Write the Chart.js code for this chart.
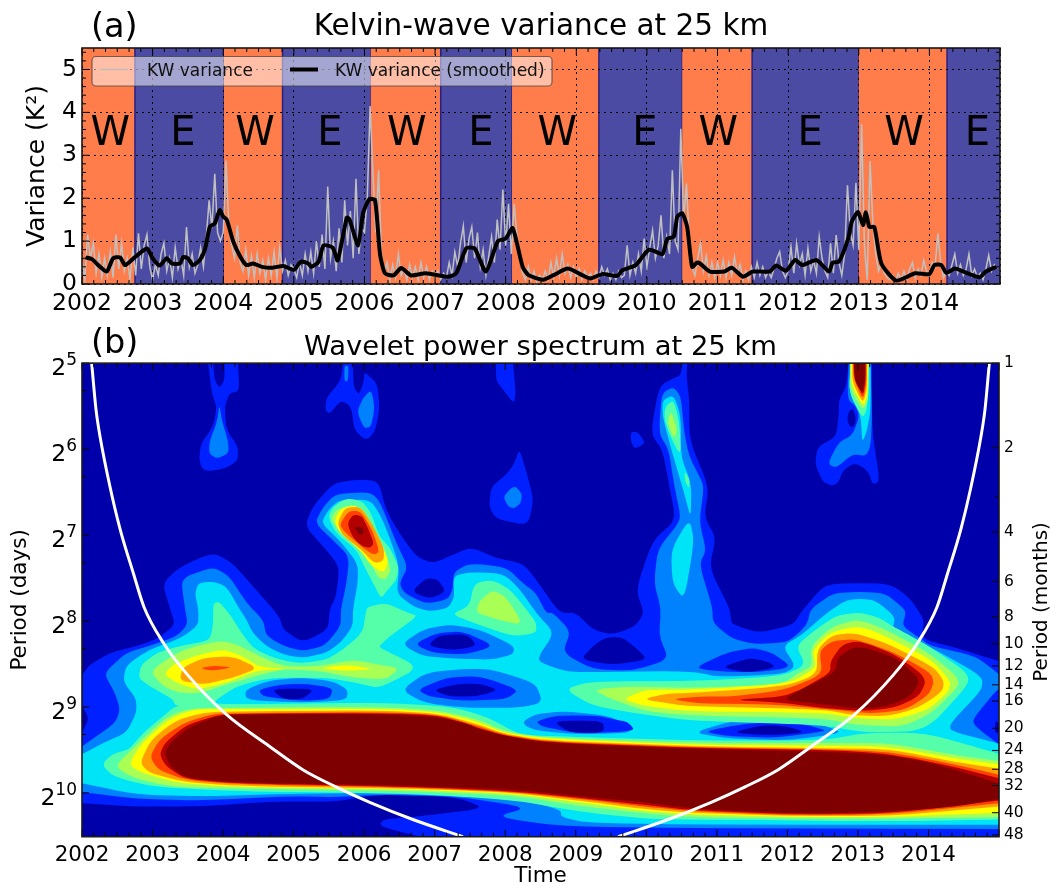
<!DOCTYPE html>
<html>
<head>
<meta charset="utf-8">
<title>Kelvin-wave variance</title>
<script src="https://cdn.jsdelivr.net/npm/chart.js@4"></script>
<style>
  html, body { margin: 0; padding: 0; background: #fff; }
  canvas { position: absolute; left: 0; }
  #varianceChart { top: 0; }
  #waveletChart { top: 320px; }
</style>
</head>
<body>
<canvas id="varianceChart" width="1050" height="320"></canvas>
<canvas id="waveletChart" width="1050" height="566"></canvas>
<script>
const FONT = '"DejaVu Sans"';

const yearTicks = [2002, 2003, 2004, 2005, 2006, 2007, 2008, 2009, 2010, 2011, 2012, 2013, 2014, 2015];
const varianceTicks = [0, 1, 2, 3, 4, 5];
const periodPowers = [5, 6, 7, 8, 9, 10];
const monthTicks = [1, 2, 4, 6, 8, 10, 12, 14, 16, 20, 24, 28, 32, 40, 48];

// QBO phases, edges in years
const phaseEdges = [2002, 2002.75, 2004.01, 2004.84, 2006.09, 2007.08, 2008.09, 2009.32, 2010.5, 2011.49, 2013.0, 2014.25, 2015];
const phaseNames = ['W', 'E', 'W', 'E', 'W', 'E', 'W', 'E', 'W', 'E', 'W', 'E'];
const phaseLabelYears = [2002.4, 2003.43, 2004.45, 2005.51, 2006.6, 2007.65, 2008.73, 2009.97, 2011.01, 2012.31, 2013.64, 2014.68];

// raw variance, one value every 0.04 yr
const rawStart = 2002;
const rawStep = 0.04;
const rawVariance = [
  .55,.1,1.15,.6,.95,.25,.7,.15,.6,.2,.75,.15,1.15,.35,.95,.3,.6,.1,.85,.2,1.18,.35,.9,1.15,.4,
  .1,.45,.2,.7,.95,.3,.6,.15,.85,.35,.6,.2,1.33,.4,.7,.25,.45,.85,.4,1.1,1.95,1.3,2.57,1.2,1.0,
  1.2,2.88,1.3,.9,.6,1.37,.5,.3,.8,.2,.65,.15,.7,.25,.55,.1,.6,.2,.75,.15,.85,.3,.55,.2,.45,
  .35,.15,.5,.2,.7,.3,.75,.25,1.0,.4,1.15,.35,2.27,.6,1.0,.3,1.3,.5,1.95,.9,1.7,.6,2.45,.7,1.3,
  1.2,2.0,4.15,2.55,1.2,2.65,.7,.25,.5,.1,.45,.15,.7,.2,.35,.1,.45,.15,.4,.1,.5,.15,.4,.1,.3,
  .15,.3,.1,.25,.15,.5,.2,.75,.4,.95,1.35,.5,1.05,1.33,.6,1.2,.4,.8,.2,.65,1.1,.5,1.5,.8,2.2,
  .9,1.87,.7,1.87,1.1,.6,.25,.1,.4,.1,.3,.05,.2,.1,.3,.1,.5,.15,.6,.2,.7,.25,.45,.15,.4,
  .15,.35,.1,.3,.15,.25,.1,.3,.15,.4,.2,.35,.1,.25,.1,.3,.15,.2,.9,.2,.5,.25,.7,.3,1.06,
  .4,.85,1.25,.6,.9,1.6,.6,1.1,.7,2.65,1.0,.8,3.62,1.5,2.34,1.0,.4,.2,.6,.95,.3,.65,.2,.5,.15,
  .5,.2,.55,.15,.5,.2,.63,.25,.45,.1,.3,.1,.4,.15,.5,.2,.4,.15,.3,.15,.35,.6,.75,.3,.15,
  .3,.87,.25,.95,.45,.7,.2,.83,.3,.55,.25,1.1,.6,.3,.15,.95,.25,1.14,.5,.2,.7,2.3,1.2,.9,2.36,
  .8,3.72,.9,.1,2.86,1.4,.7,.3,.5,.25,.15,.1,.2,.05,.25,.1,.3,.1,.35,.5,.15,.35,.2,.55,.3,
  .2,.5,.4,1.18,.5,.15,.3,.2,.45,.7,.25,.45,.2,.35,.7,.2,.35,.15,.25,.1,.35,.67,.3,.45,.35
];

const smoothYears = [2002.05,2002.14,2002.23,2002.35,2002.44,2002.54,2002.61,2002.73,2002.82,2002.92,
  2003.0,2003.1,2003.2,2003.27,2003.39,2003.43,2003.5,2003.57,2003.67,2003.74,2003.81,2003.88,2003.95,2004.0,2004.05,
  2004.14,2004.24,2004.33,2004.42,2004.55,2004.7,2004.85,2005.0,2005.1,2005.2,2005.25,2005.35,2005.42,2005.55,2005.62,2005.75,
  2005.79,2005.91,2005.98,2006.07,2006.15,2006.22,2006.29,2006.41,2006.52,2006.66,2006.87,2007.18,2007.3,2007.44,2007.56,2007.72,
  2007.89,2008.0,2008.1,2008.24,2008.33,2008.53,2008.67,2008.88,2009.09,2009.2,2009.37,2009.58,2009.65,2009.84,
  2010.03,2010.22,2010.29,2010.38,2010.43,2010.5,2010.57,2010.64,2010.71,2010.75,2010.89,2011.1,2011.2,2011.36,2011.5,2011.74,
  2011.83,2011.97,2012.1,2012.2,2012.4,2012.58,2012.63,2012.72,2012.85,2012.9,2012.99,2013.06,2013.1,2013.15,2013.22,2013.32,
  2013.53,2013.8,2014.0,2014.07,2014.17,2014.24,2014.36,2014.48,2014.71,2014.8,2014.95];
const smoothVariance = [.62,.58,.44,.29,.6,.62,.44,.6,.72,.83,
  .6,.43,.6,.48,.48,.63,.6,.44,.56,.8,1.33,1.41,1.72,1.57,1.5,
  1.0,.64,.44,.48,.4,.38,.42,.33,.52,.48,.4,.52,.9,.85,.55,1.55,
  1.5,.9,1.65,1.98,1.95,.7,.25,.2,.37,.2,.25,.17,.25,.83,.83,.29,
  1.0,1.06,1.3,.4,.2,.1,.2,.36,.2,.13,.23,.19,.32,.44,
  .8,.7,1.06,1.1,1.57,1.65,1.33,.4,.5,.48,.29,.29,.38,.17,.29,.29,
  .43,.31,.56,.44,.56,.29,.5,.52,1.06,1.45,1.68,1.37,1.67,1.33,1.33,.48,
  .08,.25,.23,.44,.44,.26,.36,.29,.16,.29,.4];

// cone of influence, year / log2(period)
const coiLeftYears = [2002.137,2002.2,2002.255,2002.4,2002.54,2002.73,2002.88,2003.15,2003.5,2004.05,2004.66,2005.13,2005.6,2006.08,2006.69,2007.4];
const coiLeftPower = [5,5.55,5.85,6.45,6.93,7.45,7.84,8.25,8.63,9.09,9.46,9.73,9.93,10.11,10.31,10.51];
const coiRightYears = [2009.6,2010.31,2010.92,2011.4,2011.87,2012.34,2012.95,2013.5,2013.85,2014.12,2014.27,2014.46,2014.6,2014.745,2014.8,2014.863];
const coiRightPower = [10.51,10.31,10.11,9.93,9.73,9.46,9.09,8.63,8.25,7.84,7.45,6.93,6.45,5.85,5.55,5];

// filled contour levels of the wavelet power, low to high
const levelColors = ['#0000aa', '#0020ff', '#0082ff', '#00e4f8', '#55ffaa', '#aaff55', '#ffff00', '#ffa000', '#ff4000', '#b40000', '#7f0000'];

// outlines, flat year,log2(period) pairs
const l1Main = [2002,8.63,2002.11,8.51,2002.4,8.37,2002.87,8.27,2003.1,8.19,2003.32,8.04,2003.25,7.86,2003.14,7.56,2003.39,7.37,2003.86,7.2,2004.14,7.33,2004.47,7.64,2004.8,7.95,2004.85,8.1,2005.13,8.25,2005.49,8.1,2005.51,7.86,2005.6,7.72,2005.65,7.37,2005.46,7.17,2005.16,6.9,2005.27,6.67,2005.56,6.4,2005.84,6.36,2006.12,6.36,2006.22,6.42,2006.31,6.71,2006.5,6.98,2006.74,7.25,2006.97,7.33,2007.26,7.23,2007.52,7.14,2007.87,7.27,2008.25,7.33,2008.44,7.52,2008.77,7.91,2009.0,7.9,2009.24,8.1,2009.52,8.16,2009.85,8.06,2009.97,7.9,2009.85,7.64,2010.09,7.06,2010.42,6.83,2010.32,6.4,2010.23,6.01,2010.06,5.82,2010.18,5.27,2010.37,5.18,2010.49,5.14,2010.51,5,2010.58,5,2010.57,5.16,2010.61,5.43,2010.61,5.9,2010.89,6.44,2010.82,6.79,2010.99,7.03,2010.89,7.38,2011.18,7.85,2011.2,7.98,2011.22,8.04,2011.6,8.14,2012.09,8.04,2012.19,7.9,2012.5,7.6,2012.73,7.56,2013.44,7.56,2013.72,7.72,2013.94,7.98,2013.91,8.17,2014,8.23,2014.38,8.31,2014.93,8.45,2015,8.47,2015,10.51,2006.79,10.51,2006.22,10.39,2006.26,10.31,2006.69,10.28,2007.73,10.18,2007.31,10.05,2006.22,10.02,2005.89,10.06,2005.6,10.1,2004.66,10.1,2003.72,10.16,2002.77,10.16,2002.02,10.12,2002,10.12,2002,9.3,2002.1,9.13,2002,8.99];
const l1Top04 = [2003.79,5,2003.84,5.35,2003.91,5.51,2003.86,5.74,2003.69,5.93,2003.66,6.09,2003.69,6.22,2003.79,6.26,2004.05,6.22,2004.21,6.13,2004.21,5.97,2004.05,5.78,2004.02,5.51,2004.09,5.35,2004.23,5.33,2004.21,5,2004.02,5,2004.02,5.2,2003.95,5.29,2003.88,5.2,2003.86,5];
const l1Top06 = [2005.7,5,2005.67,5.2,2005.46,5.41,2005.45,5.55,2005.51,5.59,2005.67,5.43,2005.82,5.51,2005.86,5.78,2006.03,5.9,2006.15,5.8,2006.22,5.55,2006.19,5.24,2006.0,5.1,2006.0,5.2,2005.93,5.37,2005.85,5.28,2005.84,5];
const l1Top08 = [2007.87,5,2008.11,5,2008.15,5.35,2008.12,5.47,2007.97,5.31,2007.87,5.2];
const l1Blob08 = [2008.2,5.99,2008.32,6.32,2008.4,6.59,2008.34,6.83,2008.25,6.88,2007.87,6.81,2007.77,6.67,2007.8,6.44,2008.01,6.3,2008.13,6.17];
const l1Dot09 = [2009.78,5.8,2009.88,5.8,2009.99,5.93,2009.83,6,2009.78,5.9];
const l1Plume13 = [2012.87,5,2012.83,5.28,2012.73,5.43,2012.73,5.59,2012.69,5.86,2012.43,5.97,2012.39,6.17,2012.5,6.38,2012.64,6.43,2012.73,6.38,2012.78,6.26,2012.92,6.17,2013.04,6.19,2013.16,6.28,2013.2,6.4,2013.28,6.4,2013.3,6.32,2013.2,5.78,2013.2,5];

const l2Main = [2002,9.46,2002.47,9.19,2002.54,9.03,2002.47,8.84,2002.33,8.64,2002.37,8.56,2002.63,8.37,2002.96,8.29,2003.34,8.18,2003.5,8.04,2003.46,7.86,2003.41,7.56,2003.48,7.48,2003.86,7.37,2004.09,7.48,2004.33,7.79,2004.57,7.99,2004.61,8.17,2004.85,8.29,2005.13,8.35,2005.44,8.29,2005.67,8.06,2005.67,7.86,2005.75,7.56,2005.79,7.25,2005.56,7.06,2005.3,6.86,2005.42,6.67,2005.6,6.52,2006.08,6.5,2006.22,6.6,2006.46,7.1,2006.62,7.37,2006.5,7.56,2006.57,7.68,2006.88,7.8,2007.19,7.75,2007.26,7.62,2007.27,7.43,2007.49,7.33,2008.01,7.37,2008.25,7.56,2008.44,7.68,2008.58,7.91,2008.67,7.9,2008.93,8.12,2008.81,8.37,2009.24,8.56,2009.8,8.58,2010.32,8.45,2010.18,8.17,2010.21,7.86,2010.11,7.56,2010.16,7.17,2010.42,6.9,2010.49,6.79,2010.39,6.4,2010.32,6.01,2010.18,5.82,2010.21,5.43,2010.25,5.33,2010.39,5.28,2010.49,5.39,2010.54,5.82,2010.61,6.09,2010.73,6.28,2010.82,6.44,2010.75,6.84,2010.85,7.18,2010.75,7.34,2010.94,7.85,2010.94,8.02,2011.22,8.21,2011.55,8.27,2011.98,8.25,2012.12,8.17,2012.28,8.04,2012.33,7.86,2012.64,7.68,2013.02,7.66,2013.39,7.68,2013.63,7.84,2013.68,7.9,2013.63,8.06,2013.86,8.19,2014.03,8.29,2014.67,8.41,2014.97,8.6,2015,8.62,2015,10.42,2010.75,10.41,2008.77,10.39,2007.87,10.28,2008.32,10.17,2007.31,10.04,2006.22,10.02,2005.6,10.05,2004.9,10.04,2003.72,10.09,2002.77,10.07,2002,9.99];
const l2Top04 = [2003.95,5.48,2003.98,5.66,2004.07,5.9,2004.08,6.05,2003.91,6.11,2003.8,6.05,2003.81,5.9,2003.91,5.7];
const l2Top06a = [2006.1,5.31,2006.15,5.51,2006.1,5.74,2006,5.76,2005.9,5.57,2005.98,5.41];
const l2Top06b = [2005.72,5.03,2005.78,5.03,2005.77,5.21,2005.72,5.21];
const l2Blob08 = [2008.13,6.42,2008.24,6.52,2008.22,6.63,2008.13,6.69,2008.04,6.67,2007.97,6.55];
const l2Plume13 = [2012.87,5,2012.85,5.42,2012.97,5.5,2013.02,5.62,2012.92,5.84,2012.73,5.92,2012.57,6.17,2012.69,6.22,2012.92,6.06,2013.11,6.08,2013.18,5.97,2013.2,5.62,2013.18,5];

const l3Main = [2002,9.55,2002.35,9.4,2002.63,9.3,2002.77,9.07,2002.77,8.91,2002.58,8.7,2002.63,8.51,2002.96,8.33,2003.25,8.25,2003.48,8.16,2003.65,8.04,2003.65,7.86,2003.6,7.68,2003.65,7.56,2003.86,7.54,2004.05,7.6,2004.24,7.87,2004.33,7.98,2004.42,8.14,2004.61,8.29,2004.85,8.39,2005.13,8.43,2005.46,8.37,2005.67,8.25,2005.84,8.06,2005.84,7.86,2005.91,7.56,2005.91,7.33,2005.65,7.06,2005.39,6.86,2005.49,6.71,2005.65,6.59,2006.08,6.59,2006.22,6.75,2006.36,7.02,2006.5,7.37,2006.46,7.68,2006.69,7.83,2006.93,7.89,2007.19,7.85,2007.28,7.72,2007.26,7.48,2007.49,7.43,2007.97,7.45,2008.2,7.62,2008.44,7.91,2008.7,8.14,2008.44,8.45,2008.63,8.53,2008.96,8.6,2010.32,8.58,2010.75,8.6,2011.0,8.65,2011.93,8.62,2012.12,8.53,2011.93,8.29,2012.21,8.16,2012.45,7.98,2012.64,7.86,2012.83,7.76,2013.02,7.74,2013.25,7.76,2013.53,7.95,2013.49,8.1,2013.68,8.19,2014,8.29,2014.76,8.64,2014.76,8.8,2014.31,9.19,2014.31,9.28,2014.97,9.42,2015,9.44,2015,10.37,2010.75,10.37,2009.15,10.35,2008.79,10.28,2008.79,10.2,2008.34,10.1,2007.87,10.06,2006.22,10.0,2004.9,10.01,2003.72,10.04,2002.77,10.02,2002.02,9.89,2002,9.89];
const l3Plume10a = [2010.23,5.43,2010.39,5.37,2010.49,5.62,2010.49,6.09,2010.64,6.4,2010.63,6.81,2010.54,6.52,2010.37,6.05,2010.23,5.62];
const l3Plume10b = [2010.35,7.17,2010.61,6.81,2010.68,7.06,2010.54,7.76,2010.37,7.56];
const l3Plume13 = [2012.89,5,2012.88,5.36,2013.04,5.6,2013.06,5.93,2013.13,5.78,2013.18,5.55,2013.18,5];

// low-power eyes cut back into the cyan field
const eye05L2 = [2004.31,8.8,2004.66,8.69,2005.13,8.66,2005.56,8.7,2005.77,8.8,2005.75,8.92,2005.13,8.95,2004.33,8.92];
const eye05L1 = [2004.5,8.8,2004.8,8.74,2005.18,8.73,2005.56,8.78,2005.51,8.91,2005.13,8.93,2004.57,8.88];
const eye05L0 = [2004.68,8.79,2005.3,8.79,2005.13,8.91,2004.85,8.91];
const eye07aL2 = [2006.53,8.27,2006.83,8.1,2007.21,8.04,2007.64,8.1,2008.13,8.29,2008.11,8.39,2007.82,8.45,2007.35,8.44,2006.83,8.41];
const eye07aL1 = [2006.71,8.27,2007.02,8.14,2007.4,8.12,2007.85,8.29,2007.45,8.39,2006.97,8.37];
const eye07aL0 = [2006.9,8.29,2007.05,8.17,2007.45,8.15,2007.61,8.29,2007.26,8.34];
const eye07bL2 = [2006.53,8.8,2006.88,8.6,2007.4,8.56,2007.78,8.56,2008.2,8.66,2008.44,8.74,2008.53,8.95,2008.2,9.01,2007.4,9.01,2006.83,8.95];
const eye07bL1 = [2006.75,8.8,2007.16,8.66,2007.64,8.64,2008.2,8.8,2008.01,8.91,2007.4,8.93,2006.93,8.88];
const eye07bL0 = [2006.97,8.8,2007.35,8.73,2007.64,8.73,2007.91,8.8,2007.59,8.88,2007.21,8.88];
const eye09L2 = [2008.25,9.17,2008.44,9.08,2008.86,9.05,2009.52,9.11,2009.85,9.3,2009.05,9.32,2008.48,9.28,2008.3,9.23];
const eye09L1 = [2008.43,9.17,2008.72,9.1,2009.29,9.1,2009.57,9.15,2009.73,9.17,2009.85,9.28,2009.05,9.31,2008.53,9.23];
const eye09L0 = [2008.67,9.16,2009.39,9.16,2009.4,9.3,2008.91,9.3];
const eye11aL1 = [2010.7,8.54,2011.13,8.37,2011.51,8.31,2011.79,8.37,2012.07,8.54,2011.55,8.6,2010.89,8.58];
const eye11aL0 = [2011.06,8.54,2011.46,8.43,2011.72,8.47,2011.84,8.54,2011.44,8.6];
const eye11bL2 = [2010.66,9.3,2011.22,9.16,2012.02,9.14,2012.5,9.21,2012.8,9.3,2012.02,9.39,2011.18,9.37];
const eye11bL1 = [2010.8,9.29,2011.41,9.19,2012.07,9.17,2012.5,9.26,2012.54,9.28,2011.84,9.36,2011.18,9.34];
const eye11bL0 = [2011.2,9.3,2011.65,9.21,2012.02,9.23,2012.26,9.3,2011.74,9.33];
const bayL0a = [2009.07,8.45,2009.24,8.29,2009.43,8.19,2009.66,8.19,2009.85,8.31,2010.02,8.45,2009.52,8.51];
const bayL0b = [2006.67,7.66,2006.88,7.5,2007.05,7.52,2007.16,7.66,2006.93,7.74];
const plume13L0 = [2012.92,5.52,2012.97,5.62,2012.96,5.72,2012.9,5.75,2012.85,5.68,2012.86,5.58];
const edgeL1 = [2014.97,8.8,2014.62,9.15,2014.67,9.23,2014.97,9.42,2015,9.43,2015,8.8];
const edgeL0 = [2014.95,9.15,2015,9.2,2015,9.3,2014.94,9.3];

const l4Band = [2002.28,9.67,2002.44,9.54,2002.66,9.5,2002.87,9.3,2003.15,9.11,2003.32,8.99,2003.72,8.95,2004.09,8.97,2006.22,8.95,2007.07,8.99,2007.4,9.03,2007.77,9.13,2008.2,9.32,2008.58,9.34,2010.75,9.39,2012.5,9.39,2013.11,9.3,2013.96,9.3,2014.97,9.54,2015,9.55,2015,10.31,2013.44,10.33,2010.61,10.31,2009.99,10.3,2009.05,10.22,2008.11,10.08,2006.69,10.01,2004.19,9.98,2003.01,9.93,2002.44,9.81];
const l4Body = [2003.32,8.99,2003.29,8.91,2002.96,8.76,2002.8,8.66,2002.84,8.51,2003.06,8.37,2003.39,8.29,2003.81,8.23,2003.86,8.04,2003.86,7.79,2003.95,7.78,2004.12,7.95,2004.26,8.14,2004.42,8.31,2004.66,8.41,2004.9,8.47,2005.13,8.49,2005.46,8.45,2005.67,8.35,2005.98,8.14,2006.03,7.86,2006.08,7.83,2006.24,7.8,2006.36,7.81,2006.64,7.91,2006.76,7.94,2006.36,8.18,2006.22,8.29,2006.22,8.31,2006.79,8.54,2006.22,8.78,2005.98,8.74,2005.77,8.7,2005.46,8.66,2004.66,8.66,2004.19,8.76,2003.88,8.93,2003.88,9.0];
const l4Dome = [2008.84,8.79,2009.24,8.7,2010.75,8.7,2011.93,8.64,2012.26,8.51,2012.12,8.29,2012.4,8.1,2012.69,7.94,2013.02,7.9,2013.3,7.96,2013.49,8.06,2013.63,8.12,2014,8.29,2014.55,8.6,2014.57,8.74,2013.96,9.28,2013.11,9.3,2012.5,9.21,2010.61,9.16,2009.99,9.09,2009.24,8.99];
const l4Hot06 = [2005.49,6.79,2005.56,6.67,2005.75,6.57,2005.98,6.61,2006.1,6.75,2006.22,7.02,2006.36,7.14,2006.49,7.37,2006.46,7.52,2006.31,7.66,2006.24,7.74,2006.1,7.52,2005.98,7.33,2005.89,7.17,2005.6,6.98];
const l4Patch08 = [2007.56,7.56,2007.82,7.52,2008.08,7.64,2008.34,7.91,2008.44,8.02,2008.44,8.14,2008.11,8.18,2007.68,8.06,2007.23,7.92,2007.49,7.83];
const l4Plume10a = [2010.28,5.49,2010.39,5.43,2010.47,5.7,2010.49,6.09,2010.32,5.82,2010.25,5.62];
const l4Plume10b = [2010.54,6.26,2010.61,6.34,2010.61,6.46,2010.55,6.38];
const l4Plume13 = [2012.9,5,2012.87,5.33,2013.06,5.64,2013.13,5.55,2013.16,5];

const l5Band = [2002.47,9.69,2002.7,9.5,2003.2,9.11,2003.53,9.02,2004.09,9.01,2006.22,9.0,2007.07,9.04,2007.64,9.15,2007.97,9.28,2008.58,9.36,2010.75,9.42,2012.5,9.42,2013.44,9.42,2014.38,9.56,2015,9.63,2015,10.28,2013.44,10.3,2012.02,10.3,2010.61,10.28,2009.99,10.24,2009.05,10.15,2008.11,10.03,2006.69,9.98,2004.19,9.95,2003.25,9.93,2002.68,9.81];
const l5Blob04 = [2002.96,8.58,2003.39,8.35,2003.72,8.27,2004.0,8.23,2004.24,8.29,2004.47,8.39,2004.85,8.53,2005.37,8.53,2005.84,8.45,2006.22,8.51,2006.5,8.55,2006.31,8.68,2005.84,8.66,2005.37,8.58,2004.85,8.56,2004.47,8.64,2004.05,8.74,2003.67,8.84,2003.39,8.84,2003.15,8.76];
const l5Dome = [2009.24,8.8,2009.76,8.76,2010.75,8.78,2011.93,8.74,2012.16,8.6,2012.35,8.53,2012.33,8.29,2012.64,8.06,2013.02,7.98,2013.44,8.12,2014,8.37,2014.4,8.64,2014.43,8.76,2014.05,9.07,2013.63,9.23,2012.97,9.21,2012.5,9.13,2010.61,9.1,2009.99,9.05,2009.52,8.91];
const l5Hot06 = [2005.53,6.81,2005.6,6.71,2005.79,6.65,2005.98,6.69,2006.12,6.9,2006.31,7.25,2006.38,7.4,2006.31,7.52,2006.2,7.5,2006.08,7.3,2005.94,7.1,2005.62,6.92];
const l5Patch08 = [2007.82,7.64,2008.01,7.72,2008.22,7.99,2008.18,8.04,2007.87,7.98,2007.58,7.9,2007.64,7.76];
const l5Plume10 = [2010.35,5.55,2010.44,5.78,2010.39,5.88,2010.3,5.7];
const l5Plume13 = [2012.89,5,2012.89,5.3,2013.07,5.55,2013.15,5.43,2013.15,5];

const l6Band = [2002.66,9.67,2002.85,9.42,2003.25,9.13,2003.62,9.02,2004.09,9.03,2006.22,9.02,2007.07,9.06,2007.64,9.18,2007.97,9.3,2008.58,9.37,2010.75,9.44,2012.5,9.45,2013.44,9.46,2014.38,9.6,2015,9.67,2015,10.23,2013.44,10.28,2012.02,10.28,2010.61,10.25,2009.99,10.21,2009.05,10.11,2008.11,10.01,2006.69,9.96,2004.19,9.93,2003.39,9.89,2002.85,9.77];
const l6Blob04 = [2003.16,8.62,2003.29,8.51,2003.58,8.41,2004.0,8.33,2004.28,8.41,2004.5,8.53,2004.92,8.56,2004.5,8.57,2004.05,8.72,2003.62,8.8,2003.34,8.72];
const l6Blob05 = [2005.37,8.55,2005.75,8.51,2006.15,8.56,2005.75,8.58];
const l6Dome = [2009.66,8.91,2009.99,8.8,2010.61,8.8,2012.02,8.73,2012.42,8.54,2012.35,8.35,2012.59,8.14,2012.97,8.06,2013.25,8.12,2014.05,8.45,2014.31,8.7,2014.29,8.82,2014,9.03,2013.53,9.15,2012.97,9.13,2012.5,9.07,2010.61,9.05,2009.99,8.99];
const l6Hot06 = [2005.58,6.83,2005.66,6.7,2005.85,6.65,2006.0,6.72,2006.22,7.05,2006.35,7.3,2006.28,7.44,2006.1,7.36,2005.96,7.19,2005.63,6.95];
const l6Plume13 = [2012.9,5,2012.91,5.26,2013.08,5.51,2013.14,5.35,2013.14,5];

const l7Band = [2002.82,9.65,2002.98,9.38,2003.34,9.15,2003.72,9.07,2004.09,9.05,2006.22,9.04,2007.07,9.08,2007.64,9.21,2007.97,9.31,2008.58,9.39,2010.75,9.46,2012.5,9.48,2013.44,9.49,2014.38,9.64,2015,9.72,2015,10.16,2013.44,10.27,2012.02,10.27,2010.61,10.23,2009.99,10.19,2009.05,10.09,2008.11,10.0,2006.69,9.95,2004.19,9.92,2003.44,9.87,2002.96,9.77];
const l7Blob04 = [2003.39,8.66,2003.43,8.54,2003.72,8.43,2004.14,8.41,2004.5,8.55,2004.14,8.66,2003.72,8.74,2003.43,8.7];
const l7Dome = [2009.95,8.91,2010.32,8.84,2010.61,8.84,2011.98,8.76,2012.42,8.62,2012.42,8.33,2012.64,8.16,2012.97,8.14,2013.44,8.27,2014.08,8.54,2014.22,8.7,2014.2,8.82,2013.86,9.01,2013.44,9.11,2012.97,9.1,2012.5,9.03,2010.61,8.99,2010.32,8.96];
const l7Hot06 = [2005.62,6.86,2005.73,6.68,2005.95,6.67,2006.12,6.88,2006.28,7.15,2006.28,7.3,2006.14,7.33,2005.96,7.17,2005.69,7.0];
const l7Plume13 = [2012.92,5,2012.92,5.22,2013.07,5.47,2013.13,5.3,2013.13,5];

const l8Band = [2002.96,9.58,2003.1,9.38,2003.43,9.19,2003.81,9.09,2004.09,9.07,2006.22,9.06,2007.07,9.09,2007.64,9.23,2007.97,9.32,2008.58,9.4,2010.75,9.47,2012.5,9.49,2013.44,9.52,2014.38,9.67,2015,9.79,2015,10.12,2013.44,10.25,2012.02,10.26,2010.61,10.21,2009.99,10.16,2009.05,10.07,2008.11,9.99,2006.69,9.94,2004.19,9.9,2003.46,9.85,2003.08,9.73];
const l8Blob04 = [2003.67,8.55,2003.86,8.52,2004.14,8.54,2003.86,8.58];
const l8Dome = [2010.35,8.91,2010.75,8.88,2011.22,8.88,2011.98,8.8,2012.5,8.62,2012.45,8.35,2012.64,8.23,2012.97,8.21,2013.53,8.37,2014.03,8.6,2014.08,8.72,2014,8.86,2013.68,9.03,2013.2,9.08,2012.64,9.03,2011.79,8.97,2010.75,8.96];
const l8Hot06 = [2005.65,6.88,2005.78,6.72,2005.95,6.72,2006.12,6.95,2006.22,7.2,2006.12,7.23,2005.96,7.13,2005.73,6.97];
const l8Plume13 = [2012.93,5,2012.94,5.18,2013.07,5.43,2013.12,5.25,2013.12,5];

const l9Band = [2003.1,9.56,2003.17,9.42,2003.48,9.21,2003.86,9.11,2004.09,9.08,2006.22,9.07,2007.07,9.1,2007.64,9.25,2007.97,9.33,2008.58,9.41,2010.75,9.48,2012.5,9.5,2013.44,9.54,2014.38,9.7,2015,9.83,2015,10.09,2013.44,10.24,2012.02,10.25,2010.61,10.2,2009.99,10.14,2009.05,10.06,2008.11,9.98,2006.69,9.93,2004.19,9.89,2003.48,9.84,2003.2,9.7];
const l9Dome = [2011.22,8.92,2011.93,8.88,2012.21,8.79,2012.61,8.6,2012.61,8.47,2012.78,8.27,2013.02,8.23,2013.53,8.39,2013.91,8.62,2013.96,8.72,2013.86,8.88,2013.53,9.01,2013.06,9.05,2012.5,9.01,2011.79,8.94];
const l9Hot06 = [2005.76,6.87,2005.84,6.76,2005.97,6.78,2006.06,6.93,2006.14,7.1,2006.08,7.15,2005.97,7.13,2005.84,7.03];
const l9Plume13 = [2012.94,5,2012.95,5.14,2013.07,5.39,2013.11,5.2,2013.11,5];

const l10Band = [2003.17,9.54,2003.25,9.42,2003.53,9.23,2003.91,9.11,2004.09,9.09,2006.22,9.08,2007.07,9.12,2007.45,9.19,2007.64,9.26,2007.97,9.33,2008.58,9.42,2010.75,9.49,2012.5,9.52,2013.44,9.56,2013.91,9.63,2014.38,9.73,2015,9.89,2015,10.07,2014.38,10.16,2013.44,10.22,2012.02,10.24,2010.61,10.18,2009.99,10.11,2009.05,10.04,2008.11,9.96,2006.69,9.92,2006.22,9.91,2004.19,9.88,2003.48,9.83,2003.25,9.69];
const l10Dome = [2011.93,8.92,2012.19,8.8,2012.68,8.6,2012.71,8.43,2012.92,8.31,2013.11,8.31,2013.53,8.43,2013.84,8.64,2013.86,8.74,2013.72,8.89,2013.39,9,2013.02,9.02,2012.5,8.97];
const l10Hot06 = [2005.86,6.9,2005.98,6.91,2006.0,6.98,2005.92,7.0];
const l10Plume13 = [2012.95,5,2012.95,5.2,2013.06,5.35,2013.1,5.2,2013.1,5];

const contourLayers = [
  [1, l1Main], [1, l1Top04], [1, l1Top06], [1, l1Top08], [1, l1Blob08], [1, l1Dot09], [1, l1Plume13],
  [2, l2Main], [2, l2Top04], [2, l2Top06a], [2, l2Top06b], [2, l2Blob08], [2, l2Plume13],
  [3, l3Main], [3, l3Plume10a], [3, l3Plume10b], [3, l3Plume13],
  [2, eye05L2], [1, eye05L1], [0, eye05L0], [2, eye07aL2], [1, eye07aL1], [0, eye07aL0],
  [2, eye07bL2], [1, eye07bL1], [0, eye07bL0], [2, eye09L2], [1, eye09L1], [0, eye09L0],
  [1, eye11aL1], [0, eye11aL0], [2, eye11bL2], [1, eye11bL1], [0, eye11bL0],
  [0, bayL0a], [0, bayL0b], [0, plume13L0], [1, edgeL1], [0, edgeL0],
  [4, l4Band], [4, l4Body], [4, l4Dome], [4, l4Hot06], [4, l4Patch08], [4, l4Plume10a], [4, l4Plume10b], [4, l4Plume13],
  [5, l5Band], [5, l5Blob04], [5, l5Dome], [5, l5Hot06], [5, l5Patch08], [5, l5Plume10], [5, l5Plume13],
  [6, l6Band], [6, l6Blob04], [6, l6Blob05], [6, l6Dome], [6, l6Hot06], [6, l6Plume13],
  [7, l7Band], [7, l7Blob04], [7, l7Dome], [7, l7Hot06], [7, l7Plume13],
  [8, l8Band], [8, l8Blob04], [8, l8Dome], [8, l8Hot06], [8, l8Plume13],
  [9, l9Band], [9, l9Dome], [9, l9Hot06], [9, l9Plume13],
  [10, l10Band], [10, l10Dome], [10, l10Hot06], [10, l10Plume13]
];

function toPoints(flat) {
  const pts = [];
  for (let i = 0; i < flat.length; i += 2) pts.push({x: flat[i], y: flat[i + 1]});
  return pts;
}

function regionDataset(points, fill, edge, smooth) {
  return {
    data: points, region: true, regionFill: fill, regionEdge: edge, regionSmooth: smooth,
    showLine: false, pointRadius: 0, pointHoverRadius: 0
  };
}

// fills the region datasets under the grid, using the points the scales placed
const regionPlugin = {
  id: 'regions',
  beforeDraw(chart) {
    const {ctx, chartArea: a} = chart;
    ctx.save();
    ctx.beginPath();
    ctx.rect(a.left, a.top, a.right - a.left, a.bottom - a.top);
    ctx.clip();
    chart.data.datasets.forEach((ds, i) => {
      if (!ds.region) return;
      const pts = chart.getDatasetMeta(i).data;
      const n = pts.length;
      const f = ds.regionSmooth ? 0.35 : 0;
      ctx.beginPath();
      for (let k = 0; k < n; k++) {
        const p = pts[k], prev = pts[(k + n - 1) % n], next = pts[(k + 1) % n];
        const onEdge = Math.abs(p.x - a.left) < 1 || Math.abs(p.x - a.right) < 1 || Math.abs(p.y - a.top) < 1 || Math.abs(p.y - a.bottom) < 1;
        const g = onEdge ? 0 : f;
        const sx = p.x + (prev.x - p.x) * g, sy = p.y + (prev.y - p.y) * g;
        if (k === 0) ctx.moveTo(sx, sy); else ctx.lineTo(sx, sy);
        if (g > 0) ctx.quadraticCurveTo(p.x, p.y, p.x + (next.x - p.x) * g, p.y + (next.y - p.y) * g);
      }
      ctx.closePath();
      ctx.fillStyle = ds.regionFill;
      ctx.fill();
      if (ds.regionEdge) {
        ctx.strokeStyle = ds.regionEdge;
        ctx.lineWidth = 1.5;
        ctx.stroke();
      }
    });
    ctx.restore();
  }
};

function tickRow(ctx, vertical, at, from, len) {
  ctx.beginPath();
  if (vertical) { ctx.moveTo(at, from); ctx.lineTo(at, from + len); }
  else { ctx.moveTo(from, at); ctx.lineTo(from + len, at); }
  ctx.stroke();
}

function xMarks(chart) {
  const {ctx, chartArea: a, scales} = chart;
  yearTicks.forEach(year => {
    for (let m = 0; m < 6; m++) {
      if (year === 2015 && m > 0) continue;
      const px = scales.x.getPixelForValue(year + m / 6);
      const len = m === 0 ? 7 : 4;
      tickRow(ctx, true, px, a.top, len);
      tickRow(ctx, true, px, a.bottom, -len);
    }
  });
}

function frame(chart) {
  const {ctx, chartArea: a} = chart;
  ctx.strokeStyle = '#1a1a1a';
  ctx.lineWidth = 1.6;
  ctx.strokeRect(a.left, a.top, a.right - a.left, a.bottom - a.top);
}

const topMarks = {
  id: 'topMarks',
  afterDatasetsDraw(chart) {
    const {ctx, chartArea: a, scales} = chart;
    ctx.save();
    // phase letters
    ctx.fillStyle = '#000';
    ctx.font = '40px ' + FONT;
    ctx.textAlign = 'center';
    ctx.textBaseline = 'alphabetic';
    phaseNames.forEach((name, i) => {
      ctx.fillText(name, scales.x.getPixelForValue(phaseLabelYears[i]), scales.y.getPixelForValue(3.23));
    });
    // legend
    ctx.beginPath();
    ctx.roundRect(92, 56.5, 460, 29.5, 4);
    ctx.fillStyle = 'rgba(255,255,255,0.5)';
    ctx.fill();
    ctx.strokeStyle = 'rgba(60,60,60,0.7)';
    ctx.lineWidth = 1.2;
    ctx.stroke();
    ctx.strokeStyle = '#c0c0c0';
    ctx.lineWidth = 1.5;
    ctx.beginPath(); ctx.moveTo(100, 69.5); ctx.lineTo(128, 69.5); ctx.stroke();
    ctx.strokeStyle = '#000';
    ctx.lineWidth = 4;
    ctx.beginPath(); ctx.moveTo(290, 69.5); ctx.lineTo(318, 69.5); ctx.stroke();
    ctx.fillStyle = '#111';
    ctx.font = '17px ' + FONT;
    ctx.textAlign = 'left';
    ctx.fillText('KW variance', 147, 76);
    ctx.fillText('KW variance (smoothed)', 335, 76);
    ctx.font = '33.5px ' + FONT;
    ctx.fillStyle = '#000';
    ctx.fillText('(a)', 91, 37);
    // ticks
    ctx.strokeStyle = '#000';
    ctx.lineWidth = 1;
    xMarks(chart);
    for (let v = 0; v <= 27; v++) {
      const py = scales.y.getPixelForValue(v * 0.2);
      const len = v % 5 === 0 ? 7 : 4;
      tickRow(ctx, false, py, a.left, len);
      tickRow(ctx, false, py, a.right, -len);
    }
    frame(chart);
    ctx.restore();
  }
};

const varianceDatasets = [
  {
    label: 'KW variance (smoothed)',
    data: smoothYears.map((x, i) => ({x, y: smoothVariance[i]})),
    showLine: true, borderColor: '#000', borderWidth: 4, borderJoinStyle: 'round', pointRadius: 0, tension: 0.2, order: 0
  },
  {
    label: 'KW variance',
    data: rawVariance.map((y, i) => ({x: rawStart + i * rawStep, y})),
    showLine: true, borderColor: '#c0c0c0', borderWidth: 1.5, pointRadius: 0, tension: 0, order: 1
  }
];
phaseNames.forEach((name, i) => {
  const a = phaseEdges[i], b = phaseEdges[i + 1];
  const box = [{x: a, y: 0}, {x: b, y: 0}, {x: b, y: 5.5}, {x: a, y: 5.5}];
  varianceDatasets.push(name === 'W'
    ? regionDataset(box, '#ff7d4b', null, false)
    : regionDataset(box, '#4b4ba3', '#2a1f80', false));
});

new Chart(document.getElementById('varianceChart'), {
  type: 'scatter',
  data: {datasets: varianceDatasets},
  plugins: [regionPlugin, topMarks],
  options: {
    responsive: false,
    animation: false,
    layout: {padding: {right: 50}},
    plugins: {
      legend: {display: false},
      tooltip: {enabled: false},
      title: {
        display: true, text: 'Kelvin-wave variance at 25 km', color: '#000', fullSize: false,
        font: {family: FONT, size: 29.5, weight: 'normal', lineHeight: 1.1},
        padding: {top: 11.3, bottom: 4.25}
      }
    },
    scales: {
      x: {
        type: 'linear', min: 2002, max: 2015,
        afterBuildTicks(s) { s.ticks = yearTicks.map(value => ({value})); },
        afterFit(s) { s.height = 36; },
        grid: {color: '#000', lineWidth: 1, drawTicks: false},
        border: {display: false, dash: [2, 4]},
        ticks: {
          color: '#000', padding: 6, autoSkip: false, maxRotation: 0,
          font: {family: FONT, size: 23.5},
          callback: v => (v < 2015 ? String(v) : '')
        }
      },
      y: {
        min: 0, max: 5.5,
        afterBuildTicks(s) { s.ticks = varianceTicks.map(value => ({value})); },
        afterFit(s) { s.width = 82; },
        grid: {color: '#000', lineWidth: 1, drawTicks: false},
        border: {display: false, dash: [2, 4]},
        ticks: {color: '#000', padding: 5, font: {family: FONT, size: 23.5}},
        title: {
          display: true, text: 'Variance (K²)', color: '#000',
          font: {family: FONT, size: 25, lineHeight: 1.2}, padding: {top: 22, bottom: 0}
        }
      }
    }
  }
});

const lowerMarks = {
  id: 'lowerMarks',
  afterDatasetsDraw(chart) {
    const {ctx, chartArea: a, scales} = chart;
    ctx.save();
    ctx.strokeStyle = '#000';
    ctx.lineWidth = 1;
    xMarks(chart);
    periodPowers.forEach(p => {
      tickRow(ctx, false, scales.y.getPixelForValue(p), a.left, 7);
      if (p < 10) tickRow(ctx, false, scales.y.getPixelForValue(p + 0.32), a.left, 4);
    });
    monthTicks.concat([3]).forEach(m => {
      tickRow(ctx, false, scales.yMonths.getPixelForValue(Math.log2(m)), a.right, m === 3 ? -4 : -7);
    });
    frame(chart);
    // base-2 tick labels, panel letter and the right axis title
    ctx.fillStyle = '#000';
    ctx.textBaseline = 'alphabetic';
    ctx.textAlign = 'right';
    periodPowers.forEach(p => {
      const py = scales.y.getPixelForValue(p);
      ctx.font = '17px ' + FONT;
      const w = ctx.measureText(String(p)).width;
      ctx.fillText(String(p), 77, py + 2);
      ctx.font = '23.5px ' + FONT;
      ctx.fillText('2', 77 - w, py + 12);
    });
    ctx.textAlign = 'left';
    ctx.font = '33.5px ' + FONT;
    ctx.fillText('(b)', 91, 33);
    ctx.save();
    ctx.translate(1047, (a.top + a.bottom) / 2 + 2);
    ctx.rotate(-Math.PI / 2);
    ctx.textAlign = 'center';
    ctx.font = '20px ' + FONT;
    ctx.fillText('Period (months)', 0, 0);
    ctx.restore();
    ctx.restore();
  }
};

const waveletDatasets = [
  {
    label: 'COI left',
    data: coiLeftYears.map((x, i) => ({x, y: coiLeftPower[i]})),
    showLine: true, borderColor: '#fff', borderWidth: 3, pointRadius: 0, cubicInterpolationMode: 'monotone'
  },
  {
    label: 'COI right',
    data: coiRightYears.map((x, i) => ({x, y: coiRightPower[i]})),
    showLine: true, borderColor: '#fff', borderWidth: 3, pointRadius: 0, cubicInterpolationMode: 'monotone'
  },
  regionDataset(toPoints([2002, 5, 2015, 5, 2015, 10.51, 2002, 10.51]), levelColors[0], null, false)
];
contourLayers.forEach(([level, outline]) => {
  waveletDatasets.push(regionDataset(toPoints(outline), levelColors[level], null, true));
});

new Chart(document.getElementById('waveletChart'), {
  type: 'scatter',
  data: {datasets: waveletDatasets},
  plugins: [regionPlugin, lowerMarks],
  options: {
    responsive: false,
    animation: false,
    plugins: {
      legend: {display: false},
      tooltip: {enabled: false},
      title: {
        display: true, text: 'Wavelet power spectrum at 25 km', color: '#000', fullSize: false,
        font: {family: FONT, size: 27.4, weight: 'normal', lineHeight: 1.1},
        padding: {top: 13, bottom: 0}
      }
    },
    scales: {
      x: {
        type: 'linear', min: 2002, max: 2015,
        afterBuildTicks(s) { s.ticks = yearTicks.map(value => ({value})); },
        afterFit(s) { s.height = 49.3; },
        grid: {display: false, drawTicks: false},
        border: {display: false},
        ticks: {
          color: '#000', padding: 6, autoSkip: false, maxRotation: 0,
          font: {family: FONT, size: 21.5},
          callback: v => (v < 2015 ? String(v) : '')
        },
        title: {
          display: true, text: 'Time', color: '#000',
          font: {family: FONT, size: 21.5, lineHeight: 1}, padding: {top: 0, bottom: -1}
        }
      },
      y: {
        reverse: true, min: 5, max: 10.51, position: 'left',
        afterFit(s) { s.width = 82; },
        afterBuildTicks(s) { s.ticks = periodPowers.map(value => ({value})); },
        grid: {display: false, drawTicks: false},
        border: {display: false},
        ticks: {display: false},
        title: {
          display: true, text: 'Period (days)', color: '#000',
          font: {family: FONT, size: 21.5, lineHeight: 1.2}, padding: {top: 8, bottom: 0}
        }
      },
      yMonths: {
        reverse: true, min: 0, max: 5.606, position: 'right',
        afterFit(s) { s.width = 51; },
        afterBuildTicks(s) { s.ticks = monthTicks.map(m => ({value: Math.log2(m)})); },
        grid: {display: false, drawTicks: false},
        border: {display: false},
        ticks: {
          color: '#000', padding: 5, autoSkip: false, font: {family: FONT, size: 15.5},
          callback: v => String(Math.round(Math.pow(2, v)))
        }
      }
    }
  }
});
</script>
</body>
</html>
